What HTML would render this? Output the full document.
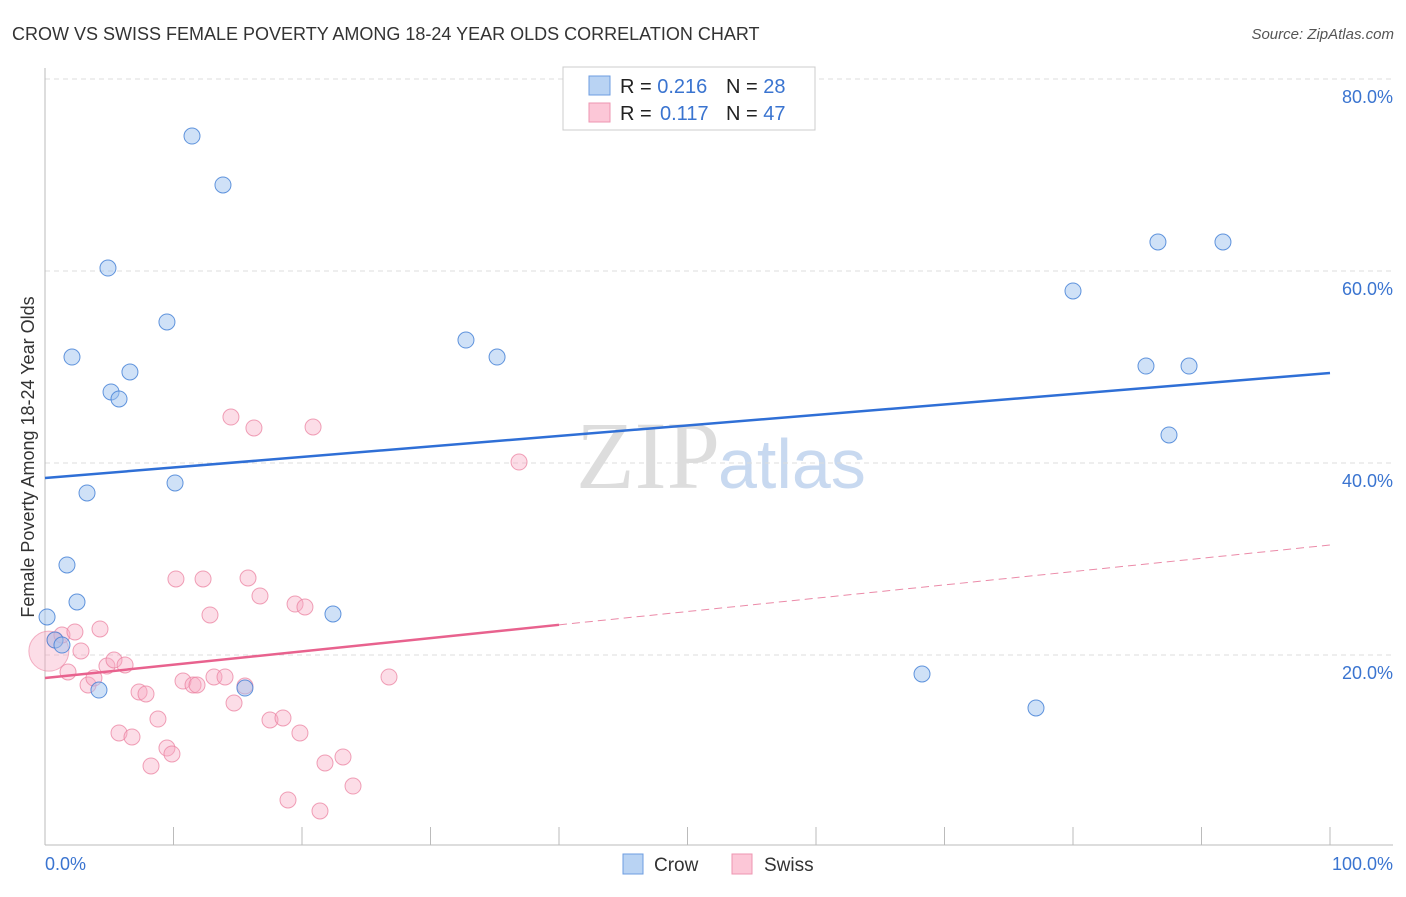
<!DOCTYPE html>
<html><head><meta charset="utf-8"><style>
body{margin:0;background:#fff;font-family:"Liberation Sans",sans-serif;}
</style></head><body>
<svg id="chart" width="1406" height="892" xmlns="http://www.w3.org/2000/svg">
<text x="12" y="40" font-size="18" fill="#333">CROW VS SWISS FEMALE POVERTY AMONG 18-24 YEAR OLDS CORRELATION CHART</text>
<text x="1394" y="39" font-size="15" fill="#555" font-style="italic" text-anchor="end">Source: ZipAtlas.com</text>
<text x="720" y="488" font-size="96" fill="#ddd" text-anchor="end" font-family="Liberation Serif">ZIP</text>
<text x="718" y="488" font-size="70" fill="#c8d9f0">atlas</text>
<g id="grid"></g>
<g id="axes"></g>
<g id="marks"></g>
<text transform="translate(34,457) rotate(-90)" font-size="18" fill="#333" text-anchor="middle">Female Poverty Among 18-24 Year Olds</text>
<text x="45" y="870" font-size="18" fill="#3a74d0">0.0%</text>
<text x="1393" y="870" font-size="18" fill="#3a74d0" text-anchor="end">100.0%</text>
<g>
<rect x="563" y="67" width="252" height="63" fill="#fff" stroke="#ccc"/>
<rect x="589" y="76" width="21" height="19" fill="#b9d3f3" stroke="#6d9de0"/>
<rect x="589" y="103" width="21" height="19" fill="#fcc7d7" stroke="#ee95b0"/>
<text x="620" y="93" font-size="20" fill="#222">R = <tspan fill="#3a74d0">0.216</tspan><tspan x="726">N = </tspan><tspan fill="#3a74d0">28</tspan></text>
<text x="620" y="120" font-size="20" fill="#222">R = <tspan fill="#3a74d0" x="660">0.117</tspan><tspan x="726">N = </tspan><tspan fill="#3a74d0">47</tspan></text>
</g>
<g>
<rect x="623" y="854" width="20" height="20" fill="#b9d3f3" stroke="#6d9de0"/>
<text x="654" y="871" font-size="19" fill="#333">Crow</text>
<rect x="732" y="854" width="20" height="20" fill="#fcc7d7" stroke="#ee95b0"/>
<text x="764" y="871" font-size="19" fill="#333">Swiss</text>
</g>
</svg>
<script>
const yTicks=[20,40,60,80];
const yTickLabels=["20.0%","40.0%","60.0%","80.0%"];
const xTicks=[0,10,20,30,40,50,60,70,80,90,100];
const crowX=[0.16,0.78,1.32,1.71,2.10,2.49,3.27,4.20,4.90,5.14,5.76,6.61,9.49,10.12,11.44,13.85,15.56,22.41,32.76,35.18,68.25,77.12,80.0,85.68,86.61,87.47,89.03,91.67];
const crowY=[23.96,21.56,21.04,29.38,51.04,25.52,36.88,16.35,60.31,47.40,46.67,49.48,54.69,37.92,74.06,68.96,16.56,24.27,52.81,51.04,18.02,14.48,57.92,50.10,63.02,42.92,50.10,63.02];
const swissX=[0.78,1.32,1.79,2.33,2.80,3.35,3.81,4.28,4.82,5.37,6.23,5.76,6.77,7.32,7.86,8.25,8.79,9.49,9.88,10.19,10.74,11.52,11.83,12.30,12.84,13.15,14.01,14.47,14.71,15.56,15.80,16.26,16.73,17.51,18.52,18.91,19.46,19.84,20.23,20.86,21.40,21.79,23.19,23.97,26.77,36.89];
const swissY=[21.56,22.08,18.23,22.40,20.42,16.88,17.60,22.71,18.85,19.48,18.96,11.88,11.46,16.15,15.94,8.44,13.33,10.31,9.69,27.92,17.29,16.88,16.88,27.92,24.17,17.71,17.71,44.79,15.0,16.77,28.02,43.65,26.15,13.23,13.44,4.90,25.31,11.88,25.0,43.75,3.75,8.75,9.38,6.35,17.71,40.10];
const swissBig=[0.3,20.4];
const crowTrend=[38.44,49.38];
const swissTrend=[17.6,31.46];
const swissSolidEnd=40;
const NS="http://www.w3.org/2000/svg";
const sx=v=>45+v*12.85, sy=v=>847-v*9.6;
function mk(tag,attrs,parent){const e=document.createElementNS(NS,tag);for(const k in attrs)e.setAttribute(k,attrs[k]);document.getElementById(parent).appendChild(e);return e;}
yTicks.forEach((t,i)=>{
 const l=mk('line',{x1:45,x2:1393,y1:sy(t),y2:sy(t),stroke:'#ddd','stroke-dasharray':'5,4'},'grid');
 
 
 const tx=mk('text',{x:1393,y:sy(t)+24,'font-size':18,fill:'#3a74d0','text-anchor':'end'},'grid');
 tx.textContent=yTickLabels[i];
 
 
});
const ax=mk('line',{x1:45,x2:1393,y1:845,y2:845,stroke:'#bbb'},'axes');


const ay=mk('line',{x1:45,x2:45,y1:68,y2:845,stroke:'#bbb'},'axes');


xTicks.forEach(t=>{
 const l=mk('line',{x1:sx(t),x2:sx(t),y1:827,y2:845,stroke:'#bbb'},'axes');
 
 
});
const big=mk('circle',{cx:sx(swissBig[0]),cy:sy(swissBig[1]),r:20,fill:'rgba(248,170,195,0.4)',stroke:'rgba(235,130,160,0.6)'},'marks');


swissX.forEach((x,i)=>{
 const c=mk('circle',{cx:sx(x),cy:sy(swissY[i]),r:8,fill:'rgba(248,170,195,0.4)',stroke:'rgba(235,130,160,0.75)'},'marks');
 
 
});
crowX.forEach((x,i)=>{
 const c=mk('circle',{cx:sx(x),cy:sy(crowY[i]),r:8,fill:'rgba(160,195,240,0.5)',stroke:'rgba(70,130,215,0.85)'},'marks');
 
 
});
const ct=mk('line',{x1:sx(0),y1:sy(crowTrend[0]),x2:sx(100),y2:sy(crowTrend[1]),stroke:'#2f6fd6','stroke-width':2.5},'marks');


const sAt=x=>swissTrend[0]+(swissTrend[1]-swissTrend[0])*x/100;
const st=mk('line',{x1:sx(0),y1:sy(sAt(0)),x2:sx(swissSolidEnd),y2:sy(sAt(swissSolidEnd)),stroke:'#e8628e','stroke-width':2.5},'marks');


const sd=mk('line',{x1:sx(swissSolidEnd),y1:sy(sAt(swissSolidEnd)),x2:sx(100),y2:sy(sAt(100)),stroke:'#eb8aa8','stroke-width':1,'stroke-dasharray':'8,5'},'marks');


</script>
</body></html>
